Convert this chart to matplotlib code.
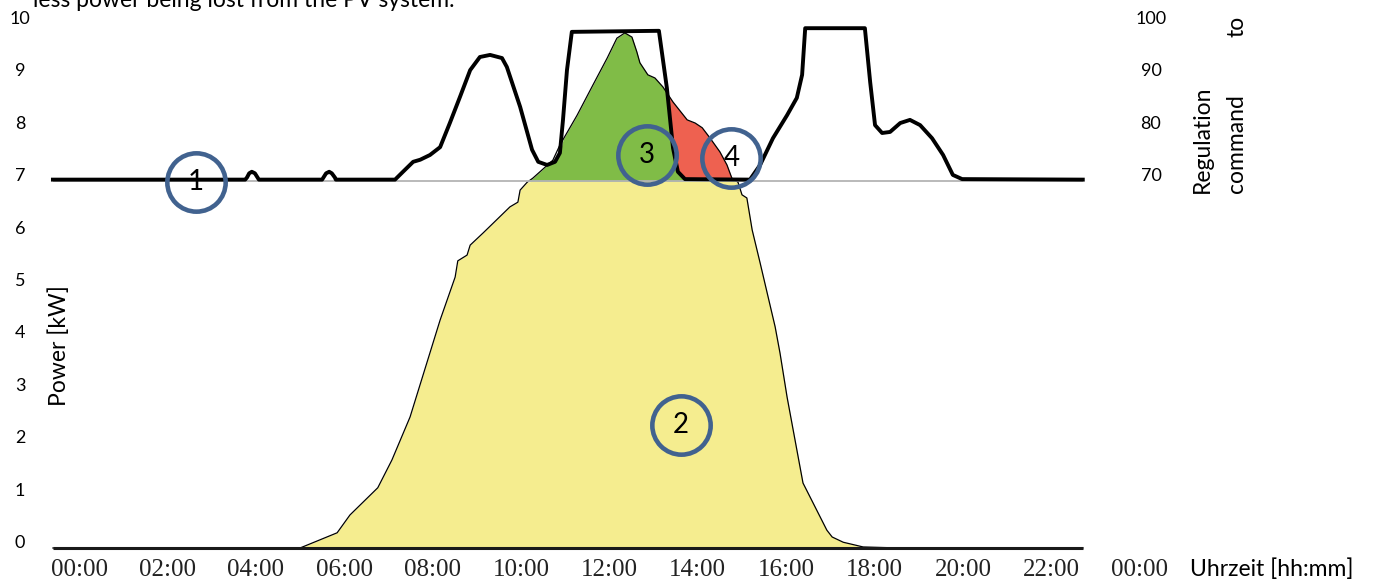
import numpy as np
import matplotlib.pyplot as plt

# regulation command [%] (right axis)
hours_reg = [-0.59, 3.76, 3.80, 3.85, 3.91, 3.98, 4.04, 4.07,
             5.50, 5.53, 5.59, 5.66, 5.72, 5.79, 5.81,
             7.15, 7.33, 7.56, 7.72, 7.94, 8.17, 8.39, 8.62, 8.85, 9.07, 9.30,
             9.57, 9.68, 9.98, 10.25, 10.39, 10.59, 10.77, 10.88, 10.95, 11.04,
             11.15, 13.12, 13.30, 13.44, 13.55, 13.71, 15.18, 15.41, 15.70,
             16.02, 16.24, 16.36, 16.43, 17.78, 17.90, 18.01, 18.17, 18.35,
             18.58, 18.80, 19.03, 19.30, 19.55, 19.77, 19.98, 22.71]
reg_cmd = [70.3, 70.3, 70.7, 71.5, 71.8, 71.5, 70.7, 70.3,
           70.3, 70.7, 71.5, 71.8, 71.5, 70.7, 70.3,
           70.3, 71.8, 73.7, 74.1, 75.0, 76.5, 81.1, 86.1, 91.2, 93.7, 94.1,
           93.5, 91.8, 84.2, 76.0, 73.7, 73.1, 73.7, 75.4, 81.7, 91.2,
           98.5, 98.7, 87.8, 76.3, 71.8, 70.4, 70.3, 73.1, 78.2,
           82.6, 85.9, 90.3, 99.2, 99.2, 88.9, 80.7, 79.2, 79.4,
           81.1, 81.7, 80.7, 78.2, 75.0, 71.2, 70.4, 70.3]

# PV power [kW] (left axis)
hours_pv = [-0.59, 5.00, 5.84, 6.13, 6.76, 7.08, 7.49, 8.17, 8.51, 8.57, 8.78,
            8.85, 9.14, 9.75, 9.93, 9.98, 10.14, 10.27, 10.72, 10.88, 11.27,
            11.63, 11.95, 12.17, 12.35, 12.51, 12.62, 12.69, 12.87, 13.03,
            13.21, 13.44, 13.76, 13.94, 14.10, 14.28, 14.50, 14.66, 14.77,
            14.91, 15.00, 15.11, 15.23, 15.41, 15.75, 15.86, 16.02, 16.38,
            16.92, 17.04, 17.29, 17.74, 18.57, 22.71]
pv_kw = [0, 0, 0.29, 0.63, 1.15, 1.68, 2.50, 4.35, 5.17, 5.48, 5.59,
         5.78, 6.01, 6.51, 6.60, 6.83, 6.98, 7.06, 7.40, 7.69, 8.26,
         8.84, 9.35, 9.73, 9.83, 9.75, 9.47, 9.26, 9.03, 8.97,
         8.80, 8.51, 8.17, 8.11, 8.02, 7.82, 7.56, 7.31, 7.06,
         6.98, 6.74, 6.68, 6.07, 5.44, 4.22, 3.72, 2.88, 1.24,
         0.34, 0.21, 0.11, 0.02, 0, 0]

base_kw = 7.0  # 70 % limit

ann_labels = ['1', '2', '3', '4']
ann_x = [2.65, 13.62, 12.84, 14.76]
ann_y = [6.98, 2.35, 7.50, 7.45]

x_ticks = list(range(0, 25, 2))
x_labels = ['%02d:00' % (h % 24) for h in x_ticks]
left_ticks = list(range(0, 11))
right_ticks = [70, 80, 90, 100]

YELLOW = '#F5ED8F'
GREEN = '#80BC47'
RED = '#EE6150'
BLUE = '#41628F'
SANS = 'Lato'

W, H = 1386, 582
fig = plt.figure(figsize=(W / 100, H / 100), dpi=100)
ax = fig.add_axes([40 / W, 22 / H, (1145 - 40) / W, (560 - 10) / H])
ax.set_xlim(-39 / 44.2, 1066 / 44.2)
ax.set_ylim(-12 / 52.4, 538 / 52.4)
ax2 = ax.twinx()
ax2.set_ylim(ax.get_ylim()[0] * 10, ax.get_ylim()[1] * 10)

t_all = np.union1d(hours_pv, hours_reg)
pv_all = np.interp(t_all, hours_pv, pv_kw)
lim_all = np.interp(t_all, hours_reg, reg_cmd) / 10

ax.fill_between(t_all, 0, np.minimum(pv_all, base_kw), color=YELLOW, lw=0)
ax.fill_between(t_all, base_kw, np.minimum(pv_all, lim_all), where=pv_all > base_kw,
                interpolate=True, color=GREEN, lw=0)
ax.fill_between(t_all, np.maximum(lim_all, base_kw), pv_all,
                where=(pv_all > lim_all) & (t_all > 13), interpolate=True, color=RED, lw=0)
ax.plot(hours_pv, pv_kw, color='black', lw=0.9)
ax.hlines(0, hours_pv[0], hours_pv[-1], color='#1a1a1a', lw=2.2)
ax.hlines(base_kw, hours_pv[0], hours_pv[-1], color='#b4b4b4', lw=1.3)

ax2.plot(hours_reg, reg_cmd, color='black', lw=2.8, solid_joinstyle='round')

ax2.plot(ann_x, ann_y, 'o', ms=42, mfc='none', mec=BLUE, mew=3.3, transform=ax.transData)
for lab, x, y in zip(ann_labels, ann_x, ann_y):
    ax2.text(x, y, lab, transform=ax.transData, ha='center', va='center',
             fontsize=20, family=SANS)

for a in (ax, ax2):
    for s in a.spines.values():
        s.set_visible(False)

ax.set_xticks(x_ticks)
ax.set_xticklabels(x_labels, family='Liberation Serif', fontsize=18, va='baseline', color='#222222')
ax.tick_params(axis='x', length=0, pad=11.5)
ax.set_yticks(left_ticks)
ax.set_yticklabels([str(v) for v in left_ticks], family=SANS, fontsize=13, ha='center', va='baseline')
ax.tick_params(axis='y', length=0, pad=14.4)
ax2.set_yticks(right_ticks)
ax2.set_yticklabels([str(v) for v in right_ticks], family=SANS, fontsize=13, ha='center', va='baseline')
ax2.tick_params(axis='y', length=0, pad=4.3)

fig.text(59 / W, 1 - 346 / H, 'Power [kW]', rotation=90, ha='center', va='center',
         fontsize=16.5, family=SANS)
fig.text(1202 / W, 1 - 193 / H, 'Regulation', rotation=90, ha='center', va='bottom',
         fontsize=16.5, family=SANS)
fig.text(1237 / W, 1 - 193 / H, 'command', rotation=90, ha='center', va='bottom',
         fontsize=16.5, family=SANS)
fig.text(1237 / W, 1 - 16 / H, 'to', rotation=90, ha='center', va='top',
         fontsize=16.5, family=SANS)
fig.text(1190 / W, 1 - 576 / H, 'Uhrzeit [hh:mm]', ha='left', va='baseline',
         fontsize=16.5, family=SANS)
fig.text(33 / W, 1 - 7 / H, 'less power being lost from the PV system.', ha='left',
         va='baseline', fontsize=16.5, family=SANS)

fig.savefig('out.png', dpi=100)
